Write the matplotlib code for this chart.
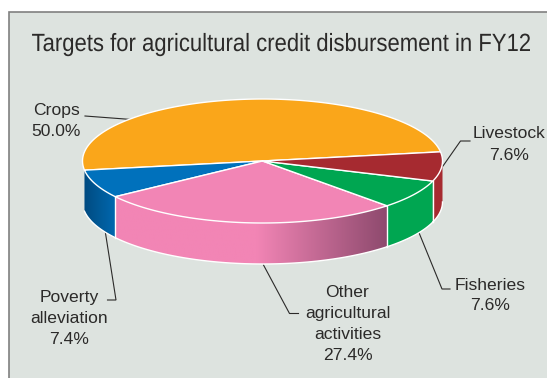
import numpy as np
import matplotlib
matplotlib.use("Agg")
import matplotlib.pyplot as plt
from matplotlib.colors import LinearSegmentedColormap
from matplotlib.patches import Polygon, Rectangle
from matplotlib.patheffects import AbstractPathEffect
from matplotlib.transforms import Affine2D

plt.rcParams['font.family'] = ['Liberation Sans', 'DejaVu Sans']

# shares of each sector, percent, counter-clockwise from the start angle
sectors = ["Crops", "Poverty\nalleviation", "Other\nagricultural\nactivities", "Fisheries", "Livestock"]
shares = [50.0, 7.4, 27.4, 7.6, 7.6]
colors = ["#faa61a", "#0071bc", "#f285b5", "#00a651", "#a62a30"]

W, H = 547, 378
BG = "#dde3df"
INK = "#2b2a29"

# pie geometry in pixels
cx, cy = 262.5, 161.0
rx, ry = 180.0, 62.0
depth = 41.0
start = 8.5


class TallText(AbstractPathEffect):
    # stretches glyphs vertically about the baseline
    def __init__(self, sy):
        super().__init__()
        self.sy = sy

    def draw_path(self, renderer, gc, tpath, affine, rgbFace=None):
        renderer.draw_path(gc, tpath, Affine2D().scale(1, self.sy) + affine, rgbFace)


def rim(a0, a1, n=120):
    t = np.radians(np.linspace(a0, a1, n))
    return cx + rx * np.cos(t), cy - ry * np.sin(t)


fig = plt.figure(figsize=(W / 100, H / 100), dpi=100)
ax = fig.add_axes([0, 0, 1, 1])
ax.set_xlim(0, W)
ax.set_ylim(H, 0)
ax.axis("off")

# panel with a border on the top and the left
ax.add_patch(Rectangle((9, 12), W - 9, H - 12, fc=BG, ec="none", zorder=0))
ax.plot([9, 9, W], [H, 12, 12], color="#808080", lw=1.2, zorder=1, solid_joinstyle="miter")

angles = start + np.concatenate([[0], np.cumsum(shares)]) * 3.6


def side_gradient(verts, x0, x1, stops):
    # fills a wall polygon with a left to right gradient
    cmap = LinearSegmentedColormap.from_list("wall", stops)
    im = ax.imshow(np.linspace(0, 1, 256)[None, :], cmap=cmap, aspect="auto",
                   extent=[x0, x1, 280, 140], zorder=3, interpolation="bilinear")
    clip = Polygon(verts, closed=True, transform=ax.transData, fc="none", ec="none")
    ax.add_patch(clip)
    im.set_clip_path(clip)
    ax.set_xlim(0, W)
    ax.set_ylim(H, 0)


# walls of the front half, then the top faces
for i, col in enumerate(colors):
    if i == 0:
        continue
    a0, a1 = angles[i], angles[i + 1]
    hi = min(a1, 360.0)
    x, y = rim(a0, hi)
    verts = np.column_stack([np.r_[x, x[::-1]], np.r_[y, y[::-1] + depth]])
    if i == 1:
        side_gradient(verts, x[0], x[0] + 40, [(0, "#004a80"), (1, col)])
    elif i == 2:
        mid = (cx - 6 - x[0]) / (x[-1] - x[0])
        side_gradient(verts, x[0], x[-1], [(0, col), (mid, col), (1, "#8e4a6e")])
    else:
        ax.add_patch(Polygon(verts, closed=True, fc=col, ec="none", zorder=3))
    # white seams on the wall edges
    ax.plot(x, y + depth, color="white", lw=1.0, zorder=4)
    if i < 4:
        ax.plot([x[-1], x[-1]], [y[-1], y[-1] + depth], color="white", lw=1.0, zorder=4)

for i, col in enumerate(colors):
    x, y = rim(angles[i], angles[i + 1])
    ax.add_patch(Polygon(np.column_stack([np.r_[cx, x], np.r_[cy, y]]), closed=True,
                         fc=col, ec="white", lw=1.0, zorder=5, joinstyle="round"))

# leader lines
leaders = [
    ([85, 131.5], [116, 119.5]),
    ([443, 460.5, 470], [166, 141, 141]),
    ([418.5, 442, 450], [231.5, 289, 289]),
    ([263.5, 289.5, 298.5], [265, 313.5, 313.5]),
    ([105, 116, 107.5], [230, 300, 300]),
]
for lx, ly in leaders:
    ax.plot(lx, ly, color=INK, lw=0.8, zorder=2, solid_joinstyle="miter")

ax.text(282, 51, "Targets for agricultural credit disbursement in FY12", ha="center", va="baseline",
        fontsize=15.9, color=INK, path_effects=[TallText(1.13)])


def pct(v):
    return "{:.1f}%".format(v)


# label centres
label_xy = [(56, 120.5), (69, 318.5), (347.5, 324), (490, 295.5), (509, 144.5)]
for (lx, ly), name, v in zip(label_xy, sectors, shares):
    ax.text(lx, ly, name + "\n" + pct(v), ha="center", va="center", fontsize=12.6,
            color=INK, linespacing=1.5)

fig.savefig("out.png", dpi=100)
